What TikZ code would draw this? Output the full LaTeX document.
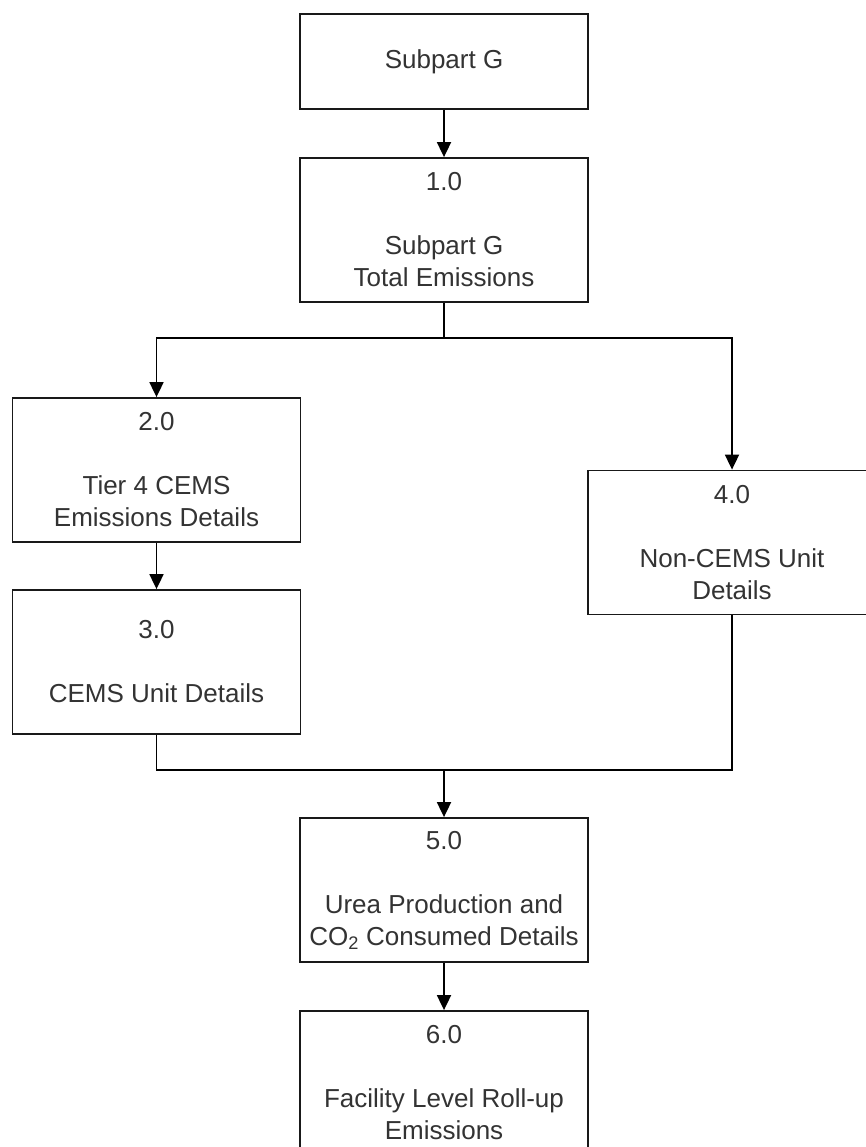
\documentclass[tikz,border=0pt]{standalone}
\usepackage{fontspec}
\setmainfont{Liberation Sans}
\usetikzlibrary{arrows.meta}
\begin{document}
\begin{tikzpicture}[x=1pt,y=-1pt,
  box/.style={draw=black!90, line width=1.8pt, fill=white, minimum width=288pt, minimum height=144pt, inner sep=0pt, align=center, text=black!80, font=\fontsize{26}{32}\selectfont},
  conn/.style={draw=black, line width=1.8pt},
  arr/.style={conn, -{Triangle[length=15pt,width=14pt]}}]
\useasboundingbox (0,0) rectangle (866,1147);
\clip (0,0) rectangle (866,1147);
\node[box, minimum height=95pt] (g) at (444,61.5) {Subpart G};
\node[box] (n1) at (444,230) {1.0\\[32pt]Subpart G\\Total Emissions};
\node[box] (n2) at (156.5,470) {2.0\\[32pt]Tier 4 CEMS\\Emissions Details};
\node[box] (n3) at (156.5,662) {3.0\\[32pt]CEMS Unit Details};
\node[box] (n4) at (732,542.5) {4.0\\[32pt]Non-CEMS Unit\\Details};
\node[box] (n5) at (444,890) {5.0\\[32pt]Urea Production and\\CO\textsubscript{2} Consumed Details};
\node[box] (n6) at (444,1083) {6.0\\[32pt]Facility Level Roll-up\\Emissions};
\coordinate (s1) at (444,338);
\coordinate (s2) at (444,770);
\draw[arr] (g) -- (n1);
\draw[conn] (n1.south) -- (s1);
\draw[arr] (s1) -| (n2.north);
\draw[arr] (s1) -| (n4.north);
\draw[arr] (n2) -- (n3);
\draw[conn] (n3.south) |- (s2);
\draw[conn] (n4.south) |- (s2);
\draw[arr] (s2) -- (n5.north);
\draw[arr] (n5) -- (n6);
\end{tikzpicture}
\end{document}
